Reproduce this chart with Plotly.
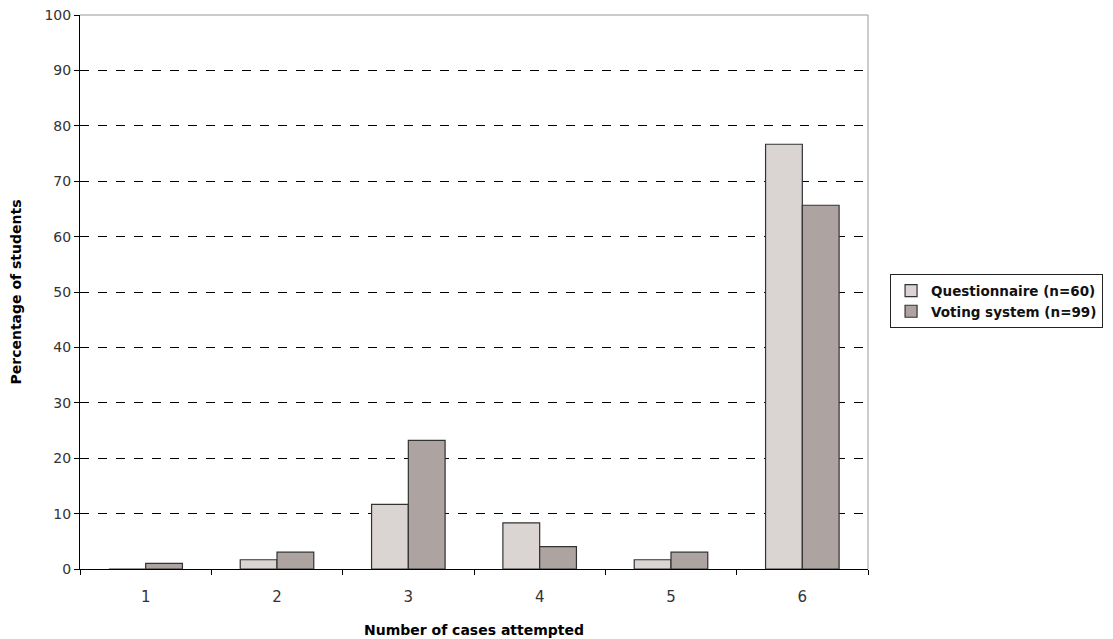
import plotly.graph_objects as go

categories = ["1", "2", "3", "4", "5", "6"]
questionnaire = [0, 1.67, 11.67, 8.33, 1.67, 76.67]
voting = [1.01, 3.03, 23.23, 4.04, 3.03, 65.66]
y_ticks = [0, 10, 20, 30, 40, 50, 60, 70, 80, 90, 100]

fig = go.Figure()
fig.add_trace(go.Bar(x=categories, y=questionnaire, name="Questionnaire (n=60)",
                     marker=dict(color="#DAD4D2", line=dict(color="#333333", width=1.2))))
fig.add_trace(go.Bar(x=categories, y=voting, name="Voting system (n=99)",
                     marker=dict(color="#ADA3A1", line=dict(color="#333333", width=1.2))))

fig.update_layout(
    width=1113, height=639,
    margin=dict(l=72, r=253, t=7, b=78),
    paper_bgcolor="white", plot_bgcolor="white",
    barmode="group", bargap=0.44, bargroupgap=0,
    font=dict(family="DejaVu Sans", size=12, color="#222222"),
    legend=dict(x=1.028, y=0.483, xanchor="left", yanchor="middle",
                bordercolor="#222222", borderwidth=1, bgcolor="white",
                font=dict(size=13.5, color="#111111", weight="bold"), tracegroupgap=0,
                itemwidth=30),
    xaxis=dict(type="category", tickson="boundaries", ticks="outside", ticklen=5,
               tickcolor="black", showline=True, linecolor="black", linewidth=1,
               showgrid=False, automargin=False, ticklabelstandoff=14,
               title=dict(text="<b>Number of cases attempted</b>", font=dict(size=14, color="black"), standoff=20),
               tickfont=dict(size=15, color="#333333")),
    yaxis=dict(range=[0, 100], tickvals=y_ticks, ticks="outside", ticklen=5,
               tickcolor="black", showline=True, linecolor="black", linewidth=1,
               showgrid=True, gridcolor="black", griddash="dash", gridwidth=1,
               zeroline=False, automargin=False, ticklabeloverflow="allow",
               title=dict(text="<b>Percentage of students</b>", font=dict(size=14, color="black"), standoff=29),
               tickfont=dict(size=14, color="#333333")),
)

fig.add_shape(type="line", xref="paper", yref="paper", x0=0, x1=1, y0=1, y1=1,
              line=dict(color="#999999", width=1))
fig.add_shape(type="line", xref="paper", yref="paper", x0=1, x1=1, y0=0, y1=1,
              line=dict(color="#999999", width=1))

fig.write_html("out.html")
